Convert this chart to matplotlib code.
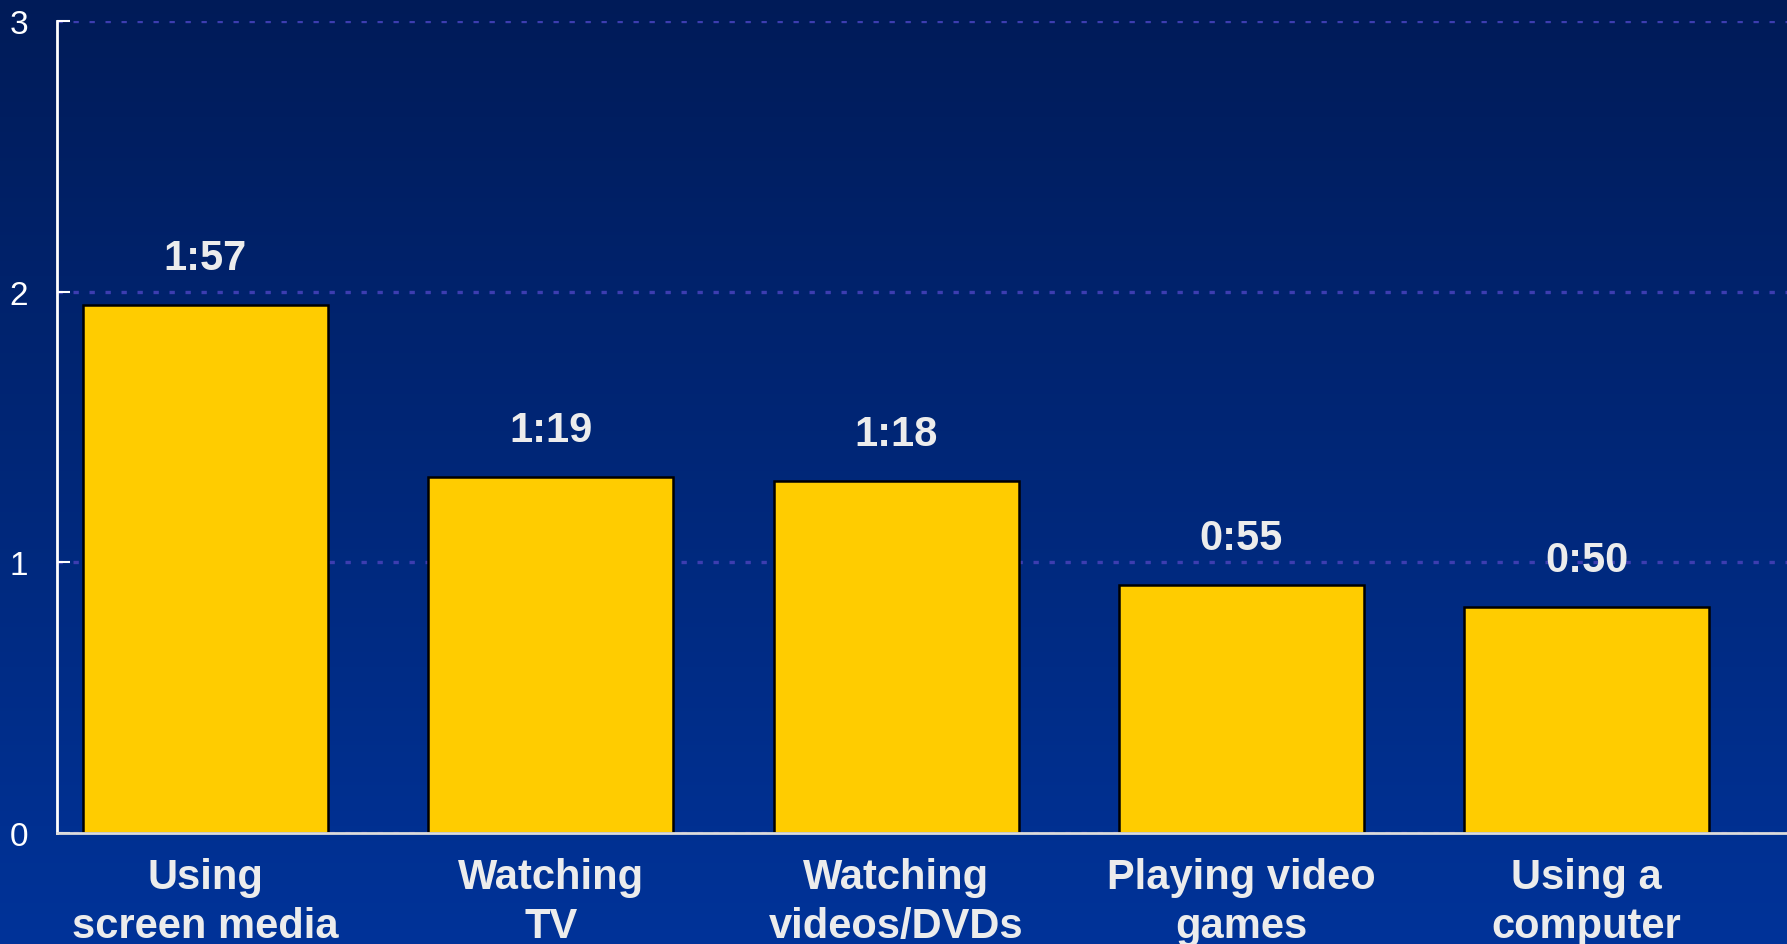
import numpy as np
import matplotlib
matplotlib.use("Agg")
import matplotlib.pyplot as plt
from matplotlib.colors import LinearSegmentedColormap

categories = ["Using\nscreen media", "Watching\nTV", "Watching\nvideos/DVDs", "Playing video\ngames", "Using a\ncomputer"]
values = [1 + 57/60, 1 + 19/60, 1 + 18/60, 55/60, 50/60]
value_labels = ["1:57", "1:19", "1:18", "0:55", "0:50"]
yticks = [0, 1, 2, 3]

plt.rcParams['font.family'] = ['Liberation Sans', 'DejaVu Sans']

W, H, DPI = 1787, 945, 100
fig = plt.figure(figsize=(W / DPI, H / DPI), dpi=DPI)

# gradient background
bg = fig.add_axes([0, 0, 1, 1], zorder=-10)
cmap = LinearSegmentedColormap.from_list("bg", ["#001b58", "#003399"])
grad = np.linspace(0, 1, 256).reshape(-1, 1)
bg.imshow(grad, aspect='auto', cmap=cmap, extent=[0, 1, 0, 1], origin='upper')
bg.set_axis_off()

ax = fig.add_axes([57 / W, (H - 834) / H, 1 - 57 / W, (834 - 22) / H])
ax.patch.set_alpha(0)

x = np.arange(len(categories))
ax.bar(x, values, width=0.71, color="#FFCC00", edgecolor="black", linewidth=1.8, zorder=3)

for xi, v, lab in zip(x, values, value_labels):
    ax.text(xi, v + 0.1, lab, ha='center', va='bottom', fontsize=30,
            fontweight='bold', color='#ececec', zorder=4)

ax.set_xlim(-0.43, 4.58)
ax.set_ylim(0, 3)
ax.set_yticks(yticks)
ax.set_yticklabels([str(t) for t in yticks])
ax.set_xticks(x)
ax.set_xticklabels(categories, fontsize=30, fontweight='bold', color='#ececec', linespacing=1.3)

ax.tick_params(axis='y', direction='in', length=9, width=1.5, colors='white',
               labelsize=24, pad=21)
ax.tick_params(axis='x', length=0, pad=17)
for lbl in ax.get_yticklabels():
    lbl.set_color('white')

ax.grid(axis='y', color='#3d3db0', linestyle=(0, (1.6, 3.2)), linewidth=2.4, zorder=1)
ax.set_axisbelow(True)

for s in ['top', 'right']:
    ax.spines[s].set_visible(False)
ax.spines['left'].set_color('white')
ax.spines['left'].set_linewidth(2)
ax.spines['bottom'].set_color('#dcdcdc')
ax.spines['bottom'].set_linewidth(2)
ax.spines['bottom'].set_zorder(5)

fig.savefig("out.png", dpi=DPI)
